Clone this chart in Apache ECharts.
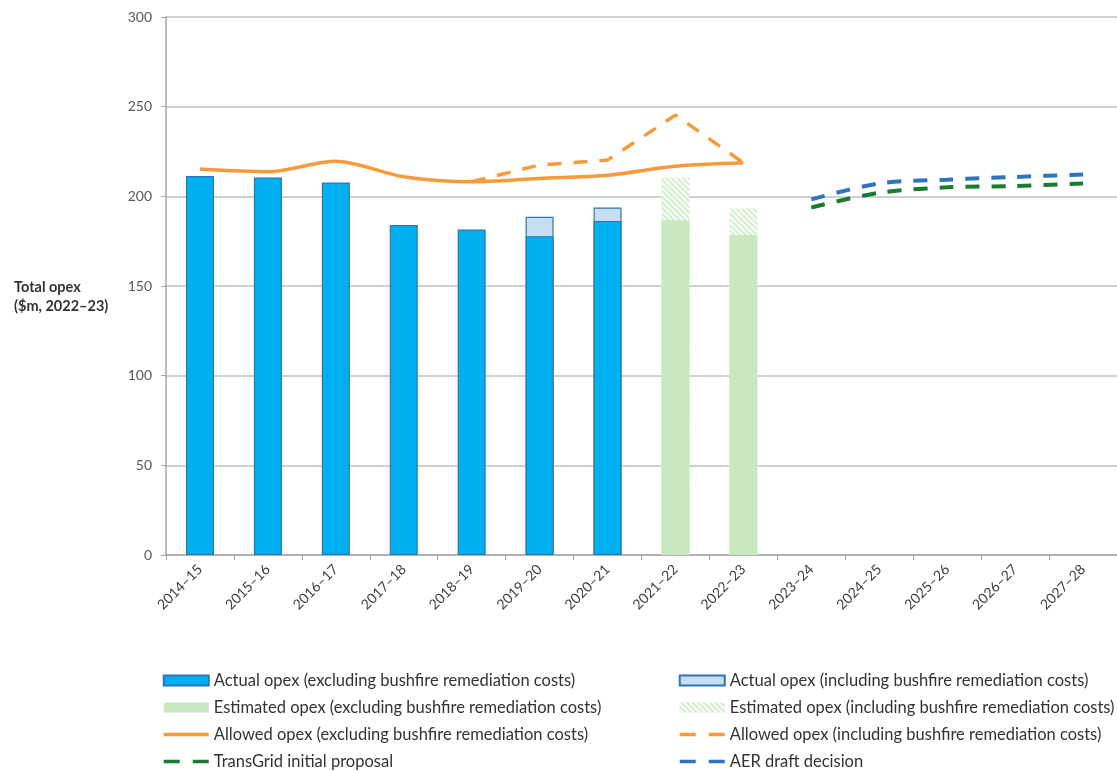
<!DOCTYPE html>
<html>
<head>
<meta charset="utf-8">
<script src="https://cdn.jsdelivr.net/npm/echarts@6/dist/echarts.min.js"></script>
<style>html,body{margin:0;padding:0;background:#fff}#c{width:1117px;height:772px}</style>
</head>
<body>
<div id="c"></div>
<script>
var categories = ['2014–15','2015–16','2016–17','2017–18','2018–19','2019–20','2020–21','2021–22','2022–23','2023–24','2024–25','2025–26','2026–27','2027–28'];
var yTicks = [0, 50, 100, 150, 200, 250, 300];
var actualExcl = [211.3, 210.5, 207.7, 184.0, 181.5, 177.8, 186.3, null, null, null, null, null, null, null];
var actualIncl = [null, null, null, null, null, 188.6, 193.8, null, null, null, null, null, null, null];
var estimatedExcl = [null, null, null, null, null, null, null, 186.7, 178.4, null, null, null, null, null];
var estimatedIncl = [null, null, null, null, null, null, null, 210.5, 193.2, null, null, null, null, null];
var allowedExcl = [215.2, 213.7, 219.6, 210.9, 208.1, 210.0, 211.8, 216.8, 218.7, null, null, null, null, null];
var allowedIncl = [null, null, null, null, 208.1, 217.5, 220.2, 245.3, 218.7, null, null, null, null, null];
var transgridProposal = [null, null, null, null, null, null, null, null, null, 193.8, 202.0, 205.0, 205.7, 207.2];
var aerDraft = [null, null, null, null, null, null, null, null, null, 198.3, 207.2, 209.3, 210.8, 212.2];

var names = {
  ae: 'Actual opex (excluding bushfire remediation costs)',
  ai: 'Actual opex (including bushfire remediation costs)',
  ee: 'Estimated opex (excluding bushfire remediation costs)',
  ei: 'Estimated opex (including bushfire remediation costs)',
  le: 'Allowed opex (excluding bushfire remediation costs)',
  li: 'Allowed opex (including bushfire remediation costs)',
  tg: 'TransGrid initial proposal',
  aer: 'AER draft decision'
};

var chart = echarts.init(document.getElementById('c'), null, {renderer: 'canvas'});
var font = 'Lato, Open Sans, sans-serif';
var hideSym = {color: 'rgba(0,0,0,0)', borderWidth: 0, opacity: 0};
function lineItem(n, dashed) {
  var ls = {width: 3.5};
  if (dashed) ls.type = [16, 13];
  return {name: n, itemStyle: hideSym, lineStyle: ls};
}
function barItem(n) { return {name: n, icon: 'rect'}; }
var legendBase = {
  orient: 'vertical', itemWidth: 45, itemHeight: 10, itemGap: 10, padding: 0,
  height: 100,
  textStyle: {fontFamily: font, fontSize: 16.5, color: '#333'},
  selectedMode: false
};
chart.setOption({
  animation: false,
  grid: {left: 166, right: 0, top: 17, bottom: 217, containLabel: false},
  graphic: [{
    type: 'text', left: 14, top: 278,
    style: {text: 'Total opex\n($m, 2022–23)', fontFamily: font, fontSize: 14.5, fontWeight: 'bold', fill: '#333', align: 'center', lineHeight: 19}
  }],
  legend: [
    Object.assign({}, legendBase, {left: 162, top: 672, data: [barItem(names.ae), barItem(names.ee), lineItem(names.le, false), lineItem(names.tg, true)]}),
    Object.assign({}, legendBase, {left: 678, top: 672, data: [barItem(names.ai), barItem(names.ei), lineItem(names.li, true), lineItem(names.aer, true)]})
  ],
  xAxis: {
    type: 'category', data: categories,
    axisLine: {lineStyle: {color: '#a6a6a6', width: 1.5}},
    axisTick: {show: true, alignWithLabel: false, length: 5, lineStyle: {color: '#a6a6a6'}},
    axisLabel: {rotate: 45, fontFamily: font, fontSize: 14, color: '#404040', margin: 12}
  },
  yAxis: {
    type: 'value', min: yTicks[0], max: yTicks[yTicks.length - 1], interval: 50,
    axisLine: {show: true, lineStyle: {color: '#a6a6a6', width: 1.5}},
    axisTick: {show: true, length: 5, lineStyle: {color: '#a6a6a6'}},
    axisLabel: {fontFamily: font, fontSize: 14, color: '#595959', margin: 14},
    splitLine: {lineStyle: {color: '#c0c0c0', width: 1.5}}
  },
  series: [
    {name: names.ai, type: 'bar', data: actualIncl, barWidth: 28, barGap: '-100%',
      itemStyle: {color: '#c5dff0', borderColor: '#2e75b6', borderWidth: 1.2}},
    {name: names.ae, type: 'bar', data: actualExcl, barWidth: 28, barGap: '-100%',
      itemStyle: {color: '#00b0f0', borderColor: '#2e75b6', borderWidth: 1.2}},
    {name: names.ei, type: 'bar', data: estimatedIncl, barWidth: 28, barGap: '-100%',
      itemStyle: {color: '#d4eecd', decal: {symbol: 'rect', symbolSize: 1, dashArrayX: [1, 0], dashArrayY: [2, 2], rotation: Math.PI / 4, color: 'rgba(255,255,255,0.9)'}}},
    {name: names.ee, type: 'bar', data: estimatedExcl, barWidth: 28, barGap: '-100%',
      itemStyle: {color: '#c8e8c0'}},
    {name: names.le, type: 'line', data: allowedExcl, symbol: 'none', smooth: 0.3,
      lineStyle: {color: '#f79a3a', width: 3.5}, itemStyle: {color: '#f79a3a'}, z: 5},
    {name: names.li, type: 'line', data: allowedIncl, symbol: 'none', smooth: false,
      lineStyle: {color: '#f79a3a', width: 3.5, type: [14, 12]}, itemStyle: {color: '#f79a3a'}, z: 4},
    {name: names.tg, type: 'line', data: transgridProposal, symbol: 'none', smooth: 0.3,
      lineStyle: {color: '#1a7a30', width: 4, type: [14, 12]}, itemStyle: {color: '#1a7a30'}, z: 5},
    {name: names.aer, type: 'line', data: aerDraft, symbol: 'none', smooth: 0.3,
      lineStyle: {color: '#2e75c0', width: 4, type: [14, 12]}, itemStyle: {color: '#2e75c0'}, z: 5}
  ]
});
</script>
</body>
</html>
